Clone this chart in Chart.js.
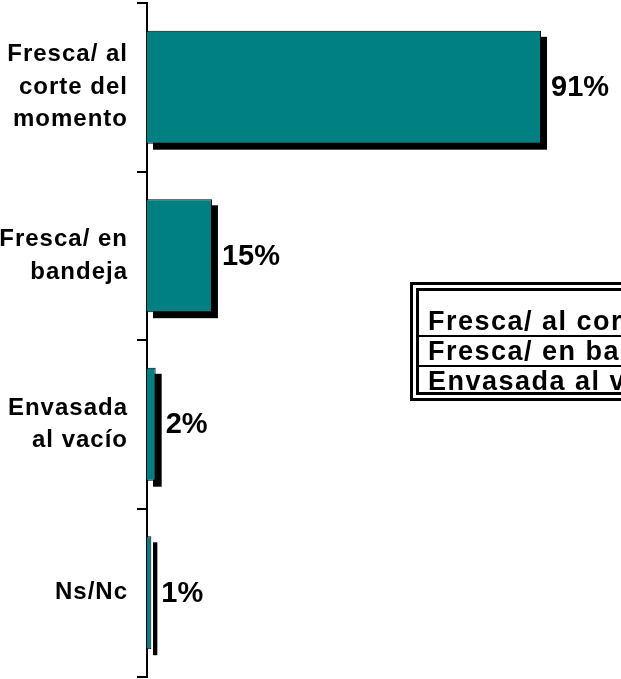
<!DOCTYPE html>
<html>
<head>
<meta charset="utf-8">
<script src="https://cdn.jsdelivr.net/npm/chart.js"></script>
<style>
  html, body { margin: 0; padding: 0; background: #fff; overflow: hidden; }
  #wrap { position: relative; width: 621px; height: 679px; overflow: hidden; }
  #legendBox {
    position: absolute; left: 410px; top: 282px; width: 320px;
    border: 9px double #000;
    font: bold 27px "Liberation Sans", Arial, sans-serif;
    letter-spacing: 1.5px; color: #000; white-space: nowrap;
  }
  #legendBox div { padding-left: 9px; height: 28px; line-height: 29px; }
  #legendBox div + div { border-top: 2px solid #000; }
  #legendBox div:first-child { padding-top: 16px; }
  #legendBox div:last-child { height: 25px; }
</style>
</head>
<body>
<div id="wrap">
  <canvas id="c" width="621" height="679"></canvas>
  <div id="legendBox"></div>
</div>
<script>
// datos
const categorias = [
  ['Fresca/ al', 'corte del', 'momento'],
  ['Fresca/ en', 'bandeja'],
  ['Envasada', 'al vacío'],
  ['Ns/Nc']
];
const valores = [91, 15, 2, 1];
const leyenda = categorias.slice(0, 3).map(c => c.join(' '));

const fuente = '"Liberation Sans", Arial, sans-serif';

document.getElementById('legendBox').innerHTML =
  leyenda.map(t => '<div>' + t + '</div>').join('');

// sombra negra detrás de las barras, espaciado de letras y etiquetas de valor
const sombra = {
  id: 'sombra',
  beforeDraw(chart) { chart.ctx.letterSpacing = '1px'; },
  beforeDatasetsDraw(chart) {
    const ctx = chart.ctx;
    ctx.letterSpacing = '0px';
    ctx.save();
    ctx.fillStyle = '#000';
    chart.getDatasetMeta(0).data.forEach(bar => {
      const h = bar.height;
      ctx.fillRect(bar.base + 6, bar.y - h / 2 + 6, bar.x - bar.base, h);
    });
    ctx.restore();
  },
  afterDatasetsDraw(chart) {
    const ctx = chart.ctx;
    ctx.save();
    ctx.fillStyle = '#000';
    ctx.font = 'bold 29px ' + fuente;
    ctx.textAlign = 'left';
    ctx.textBaseline = 'middle';
    chart.getDatasetMeta(0).data.forEach((bar, i) => {
      ctx.fillText(valores[i] + '%', bar.x + 10, bar.y + 1);
    });
    ctx.restore();
  }
};

new Chart(document.getElementById('c'), {
  type: 'bar',
  data: {
    labels: categorias,
    datasets: [{
      data: valores,
      backgroundColor: '#008080',
      borderColor: '#000',
      borderWidth: 1,
      barPercentage: 0.67,
      categoryPercentage: 1
    }]
  },
  options: {
    indexAxis: 'y',
    responsive: false,
    animation: false,
    layout: { padding: { top: 3, bottom: 2, left: 0, right: 41 } },
    plugins: { legend: { display: false }, tooltip: { enabled: false } },
    scales: {
      x: { display: false, min: 0, max: 100 },
      y: {
        afterFit(s) { s.width = 147; s.paddingTop = 0; s.paddingBottom = 0; },
        border: { display: true, color: '#000', width: 2 },
        grid: {
          display: true, drawOnChartArea: false, drawTicks: true,
          tickLength: 10, color: '#000', lineWidth: 2, offset: true
        },
        ticks: {
          color: '#000',
          padding: 9,
          font: { family: fuente, weight: 'bold', size: 24, lineHeight: 1.35 }
        }
      }
    }
  },
  plugins: [sombra]
});
</script>
</body>
</html>
